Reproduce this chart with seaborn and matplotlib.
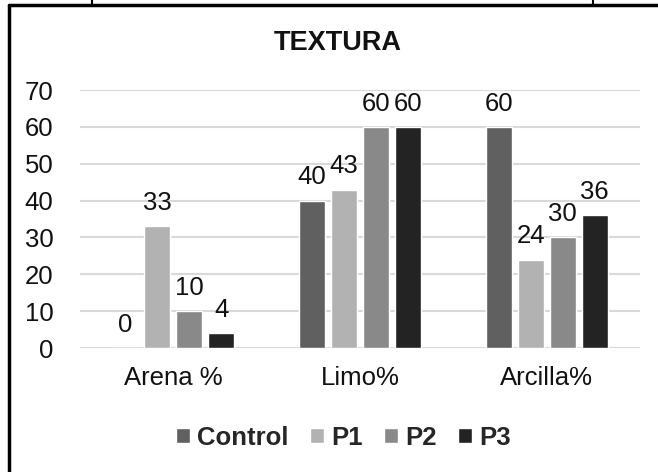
import matplotlib
matplotlib.use('Agg')
import matplotlib.pyplot as plt
from matplotlib.lines import Line2D
import seaborn as sns
import pandas as pd

# Datos
categorias = ['Arena %', 'Limo%', 'Arcilla%']
series = ['Control', 'P1', 'P2', 'P3']
control = [0, 40, 60]
p1 = [33, 43, 24]
p2 = [10, 60, 30]
p3 = [4, 60, 36]
colores = ['#606060', '#b2b2b2', '#898989', '#232323']

valores = {'Control': control, 'P1': p1, 'P2': p2, 'P3': p3}
df = pd.DataFrame([(c, s, valores[s][i]) for s in series for i, c in enumerate(categorias)],
                  columns=['Textura', 'Serie', 'Valor'])

sns.set_style('white')
plt.rcParams['font.family'] = ['Liberation Sans', 'DejaVu Sans']

fig = plt.figure(figsize=(6.58, 4.72), dpi=100)
ax = fig.add_axes([0.1216, 0.2627, 0.851, 0.5466])

sns.barplot(data=df, x='Textura', y='Valor', hue='Serie', palette=colores,
            width=0.686, gap=0.19, saturation=1, ax=ax, legend=True)

for cont in ax.containers:
    ax.bar_label(cont, fmt='%g', padding=8, fontsize=18.5, color='#111111')

ax.set_ylim(0, 70)
ax.set_xlim(-0.5, 2.5)
ax.set_yticks(range(0, 71, 10))
ax.yaxis.grid(True, color='#d9d9d9', linewidth=1.5)
ax.set_axisbelow(True)
for s in ax.spines.values():
    s.set_visible(False)
ax.tick_params(axis='y', length=0, pad=19, labelsize=18.5, labelcolor='#111111')
ax.tick_params(axis='x', length=0, pad=13, labelsize=18.5, labelcolor='#111111')
ax.set_xlabel('')
ax.set_ylabel('')

fig.text(0.514, 1 - 42.5 / 472, 'TEXTURA', ha='center', va='center',
         fontsize=19.5, fontweight='bold', color='#111111')

h, l = ax.get_legend_handles_labels()
ax.get_legend().remove()
fig.legend(h, l, loc='center', bbox_to_anchor=(0.522, 1 - 438 / 472), ncol=4,
           frameon=False, handlelength=0.52, handleheight=0.52, handletextpad=0.28,
           columnspacing=0.85, prop={'size': 18.5, 'weight': 'bold'})

# Marco del gráfico
fig.add_artist(Line2D([9 / 658, 9 / 658], [0, 1 - 5 / 472], color='black', lw=2.5,
                      transform=fig.transFigure))
fig.add_artist(Line2D([9 / 658, 1], [1 - 5 / 472, 1 - 5 / 472], color='black', lw=2.5,
                      transform=fig.transFigure))
for xx in [92, 593]:
    fig.add_artist(Line2D([xx / 658, xx / 658], [1 - 5 / 472, 1], color='black', lw=1.5,
                          transform=fig.transFigure))

fig.savefig('out.png', dpi=100)
